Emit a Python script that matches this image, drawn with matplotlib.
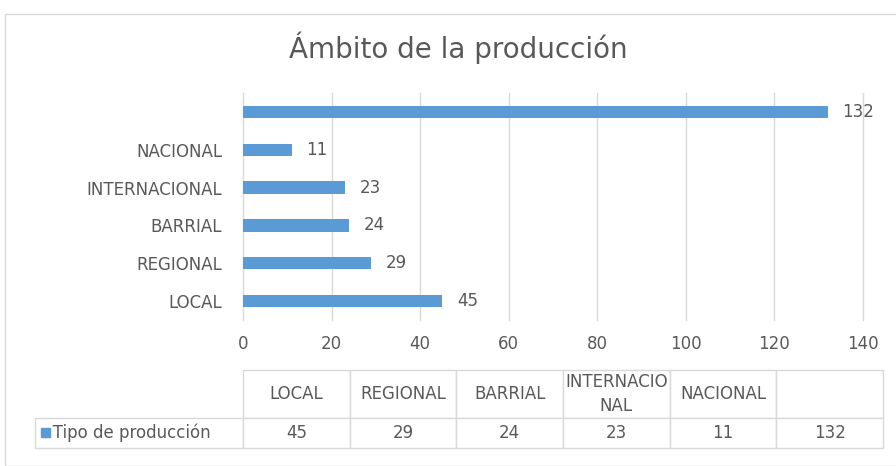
import matplotlib
matplotlib.use("Agg")
import matplotlib.pyplot as plt
from matplotlib.patches import Rectangle

plt.rcParams['font.family'] = ['DejaVu Sans']

categories = ["LOCAL", "REGIONAL", "BARRIAL", "INTERNACIONAL", "NACIONAL", ""]
table_headers = ["LOCAL", "REGIONAL", "BARRIAL", "INTERNACIO\nNAL", "NACIONAL", ""]
values = [45, 29, 24, 23, 11, 132]
series_name = "Tipo de producción"
x_ticks = [0, 20, 40, 60, 80, 100, 120, 140]

BAR = "#5B9BD5"
GRID = "#D9D9D9"
TXT = "#595959"

W, H = 896, 466
fig = plt.figure(figsize=(W / 100, H / 100), dpi=100)


def px(x0, y0, x1, y1):
    # pixel box (top-left origin) -> figure fraction [l, b, w, h]
    return [x0 / W, 1 - y1 / H, (x1 - x0) / W, (y1 - y0) / H]


ax = fig.add_axes(px(243, 93, 863, 320))
ypos = range(len(categories))
ax.barh(ypos, values, height=0.33, color=BAR, zorder=3)
for y, v in zip(ypos, values):
    ax.text(v + 3.3, y, str(v), va="center", ha="left", fontsize=12, color=TXT)

ax.set_xlim(0, 140)
ax.set_ylim(-0.5, len(categories) - 0.5)
ax.set_xticks(x_ticks)
ax.set_yticks(list(ypos))
ax.set_yticklabels(categories)
ax.tick_params(axis="both", length=0, labelsize=12, labelcolor=TXT)
ax.tick_params(axis="x", pad=11)
ax.tick_params(axis="y", pad=15)
ax.grid(axis="x", color=GRID, linewidth=1, zorder=0)
for gl in ax.get_xgridlines():
    gl.set_clip_on(False)
for s in ax.spines.values():
    s.set_visible(False)

fig.text(458 / W, 1 - 48 / H, "Ámbito de la producción", ha="center", va="center",
         fontsize=20, color=TXT)

# data table under the chart (first column holds the legend entry)
x_left, x_right = 35, 883
row_w = 243 - x_left
col_w = (x_right - 243) / len(table_headers)
tab = ax.table(cellText=[["   " + series_name] + [str(v) for v in values]],
               colLabels=[""] + table_headers,
               cellLoc="center",
               bbox=[(x_left - 243) / 620, (320 - 448) / 227,
                     (x_right - x_left) / 620, 78 / 227])
tab.auto_set_font_size(False)
for (r, c), cell in tab.get_celld().items():
    cell.set_edgecolor(GRID)
    cell.set_linewidth(1)
    cell.get_text().set_color(TXT)
    cell.get_text().set_fontsize(12)
    cell.set_width(row_w if c == 0 else col_w)
    cell.set_height(48 if r == 0 else 30)
    if r == 0:
        cell.get_text().set_linespacing(1.4)
    if c == 0:
        cell.get_text().set_horizontalalignment("left")
        cell.PAD = 0.01
        if r == 0:
            cell.visible_edges = ""

# legend key in the first cell
fig.patches.append(Rectangle(((x_left + 6) / W, 1 - 437 / H), 9 / W, 9 / H,
                             transform=fig.transFigure, color=BAR))

# chart border
fig.patches.append(Rectangle((5 / W, 0), (W - 4) / W, 1 - 14 / H,
                             transform=fig.transFigure, fill=False,
                             edgecolor=GRID, linewidth=1))

fig.savefig("out.png", dpi=100)
